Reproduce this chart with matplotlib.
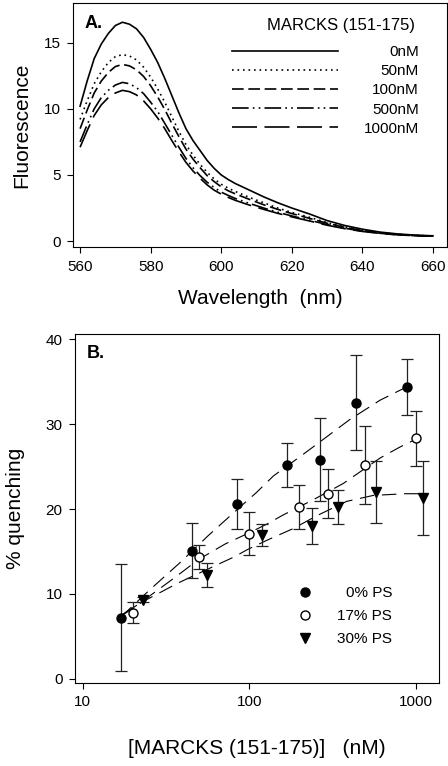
import matplotlib
matplotlib.use('Agg')
import matplotlib.pyplot as plt

plt.rcParams['font.family'] = ['Liberation Sans', 'DejaVu Sans']

# ---- panel A: emission spectra ----
wavelength = [560, 562, 564, 566, 568, 570, 572, 574, 576, 578, 580, 582, 584, 586, 588, 590,
              592, 594, 596, 598, 600, 602, 604, 608, 612, 616, 620, 625, 630, 635, 640, 645,
              650, 655, 660]
f_0nM = [10.2, 12.1, 13.8, 14.9, 15.7, 16.3, 16.55, 16.4, 16.05, 15.4, 14.5, 13.5, 12.3, 11.0,
         9.7, 8.5, 7.6, 6.85, 6.1, 5.5, 5.0, 4.65, 4.35, 3.85, 3.35, 2.9, 2.5, 2.05, 1.55, 1.18,
         0.9, 0.68, 0.54, 0.45, 0.4]
f_50nM = [9.2, 10.6, 11.9, 12.8, 13.5, 13.95, 14.1, 14.0, 13.7, 13.15, 12.4, 11.5, 10.5, 9.4,
          8.3, 7.3, 6.5, 5.8, 5.2, 4.7, 4.3, 4.0, 3.75, 3.3, 2.9, 2.5, 2.17, 1.8, 1.4, 1.07,
          0.82, 0.63, 0.51, 0.43, 0.38]
f_100nM = [8.5, 9.9, 11.2, 12.1, 12.75, 13.2, 13.36, 13.25, 12.95, 12.45, 11.75, 10.9, 9.95,
           8.9, 7.9, 6.95, 6.2, 5.55, 4.95, 4.5, 4.1, 3.8, 3.57, 3.15, 2.75, 2.4, 2.08, 1.72,
           1.35, 1.04, 0.8, 0.62, 0.5, 0.42, 0.38]
f_500nM = [7.5, 8.8, 10.0, 10.85, 11.4, 11.8, 12.0, 11.9, 11.6, 11.15, 10.5, 9.8, 8.9, 8.0,
           7.1, 6.25, 5.55, 4.95, 4.45, 4.05, 3.7, 3.45, 3.22, 2.85, 2.5, 2.18, 1.9, 1.58,
           1.25, 0.97, 0.75, 0.59, 0.48, 0.41, 0.37]
f_1000nM = [7.1, 8.35, 9.5, 10.3, 10.85, 11.2, 11.4, 11.3, 11.05, 10.6, 10.0, 9.3, 8.5, 7.6,
            6.75, 5.95, 5.3, 4.75, 4.25, 3.85, 3.55, 3.3, 3.08, 2.72, 2.4, 2.1, 1.83, 1.52,
            1.2, 0.94, 0.73, 0.58, 0.47, 0.41, 0.37]
spec_labels = ['0nM', '50nM', '100nM', '500nM', '1000nM']

# ---- panel B: quenching vs concentration ----
x_0 = [17.1, 45.2, 84.9, 168, 268, 436, 891]
y_0 = [7.2, 15.1, 20.6, 25.2, 25.8, 32.5, 34.4]
e_0 = [6.3, 3.2, 2.9, 2.6, 4.9, 5.6, 3.3]
x_17 = [20.1, 50, 100, 200, 299, 499, 1000]
y_17 = [7.8, 14.4, 17.1, 20.2, 21.8, 25.2, 28.3]
e_17 = [1.25, 1.4, 2.5, 2.6, 2.9, 4.6, 3.2]
x_30 = [23.1, 55.6, 120, 239, 340, 578, 1101]
y_30 = [9.3, 12.2, 16.9, 18.0, 20.2, 22.0, 21.3]
e_30 = [0.3, 1.4, 1.3, 2.1, 2.0, 3.6, 4.4]

# fitted curves
fx_0 = [17, 25, 38, 57, 75, 90, 110, 140, 200, 266, 400, 610, 890]
fy_0 = [7.3, 10.4, 13.6, 16.9, 19.0, 20.4, 21.9, 23.9, 26.1, 27.9, 30.5, 32.8, 34.4]
fx_17 = [18, 25, 35, 50, 72, 100, 127, 160, 243, 367, 611, 805, 1000]
fy_17 = [7.7, 9.7, 11.8, 14.1, 15.9, 17.2, 18.2, 19.3, 21.1, 23.0, 26.0, 27.3, 28.2]
fx_30 = [17, 23, 37.5, 62, 82, 97, 127, 184, 254, 385, 556, 863, 1100]
fy_30 = [7.5, 9.1, 11.3, 13.3, 14.4, 15.2, 16.3, 17.7, 19.2, 20.9, 21.6, 21.8, 21.8]

fig = plt.figure(figsize=(4.48, 7.66), dpi=100)
axA = fig.add_axes([0.163, 0.6775, 0.835, 0.3185])
axB = fig.add_axes([0.1674, 0.1084, 0.8125, 0.4556])

styles = ['-', (0, (1, 2.3)), (0, (7, 2.8)), (0, (10, 2.5, 1, 2.5, 1, 2.5)), (0, (15, 4.5))]
for ys, ls, lab in zip([f_0nM, f_50nM, f_100nM, f_500nM, f_1000nM], styles, spec_labels):
    axA.plot(wavelength, ys, color='black', lw=1.2, linestyle=ls, label=lab)

axA.set_xlim(558, 664)
axA.set_ylim(-0.45, 18)
axA.set_xticks([560, 580, 600, 620, 640, 660])
axA.set_yticks([0, 5, 10, 15])
axA.set_xlabel('Wavelength  (nm)', fontsize=15, labelpad=11)
axA.set_ylabel('Fluorescence', fontsize=15, labelpad=9)
axA.text(0.032, 0.95, 'A.', transform=axA.transAxes, fontsize=13, fontweight='bold',
         va='top', ha='left')
axA.text(0.914, 0.906, 'MARCKS (151-175)', transform=axA.transAxes, fontsize=12,
         va='center', ha='right')
legA = axA.legend(loc='upper right', bbox_to_anchor=(0.925, 0.828), frameon=False,
                  fontsize=11, handlelength=6.9, handletextpad=1.7, labelspacing=0.34,
                  borderpad=0, borderaxespad=0)

axB.errorbar(x_0, y_0, yerr=e_0, fmt='o', color='black', ecolor='#222222', elinewidth=0.9,
             capsize=4.5, capthick=0.9, markersize=6.5, label='0% PS', zorder=3)
axB.errorbar(x_17, y_17, yerr=e_17, fmt='o', color='black', mfc='white', mec='black',
             ecolor='#222222', elinewidth=0.9, capsize=4.5, capthick=0.9, markersize=6.5,
             label='17% PS', zorder=3)
axB.errorbar(x_30, y_30, yerr=e_30, fmt='v', color='black', ecolor='#222222', elinewidth=0.9,
             capsize=4.5, capthick=0.9, markersize=7, label='30% PS', zorder=3)
for fx, fy in [(fx_0, fy_0), (fx_17, fy_17), (fx_30, fy_30)]:
    axB.plot(fx, fy, color='black', lw=0.8, linestyle=(0, (13, 7)), zorder=2)

axB.set_xscale('log')
axB.set_xlim(9.0, 1380)
axB.set_ylim(-0.47, 40.6)
axB.set_xticks([10, 100, 1000])
axB.set_xticklabels(['10', '100', '1000'])
axB.minorticks_off()
axB.set_yticks([0, 10, 20, 30, 40])
axB.set_xlabel('[MARCKS (151-175)]   (nM)', fontsize=15, labelpad=21)
axB.set_ylabel('% quenching', fontsize=15, labelpad=15)
axB.text(0.033, 0.968, 'B.', transform=axB.transAxes, fontsize=13, fontweight='bold',
         va='top', ha='left')
h, l = axB.get_legend_handles_labels()
h = [hh[0] for hh in h]
legB = axB.legend(h, l, loc='lower right', bbox_to_anchor=(0.871, 0.106), frameon=False,
                  fontsize=11, handlelength=1.0, handletextpad=1.6, labelspacing=0.58,
                  borderpad=0, borderaxespad=0)

for ax in (axA, axB):
    for sp in ax.spines.values():
        sp.set_linewidth(0.8)
    ax.tick_params(direction='out', length=4, width=0.8, labelsize=11, pad=5,
                   top=False, right=False)

# right-align legend entry text (shift shorter labels by their missing width)
fig.canvas.draw()
r = fig.canvas.get_renderer()
for leg in (legA, legB):
    texts = leg.get_texts()
    widths = [t.get_window_extent(r).width for t in texts]
    wmax = max(widths)
    for t, w in zip(texts, widths):
        t.set_position((wmax - w, 0))

fig.savefig('out.png', dpi=100)
